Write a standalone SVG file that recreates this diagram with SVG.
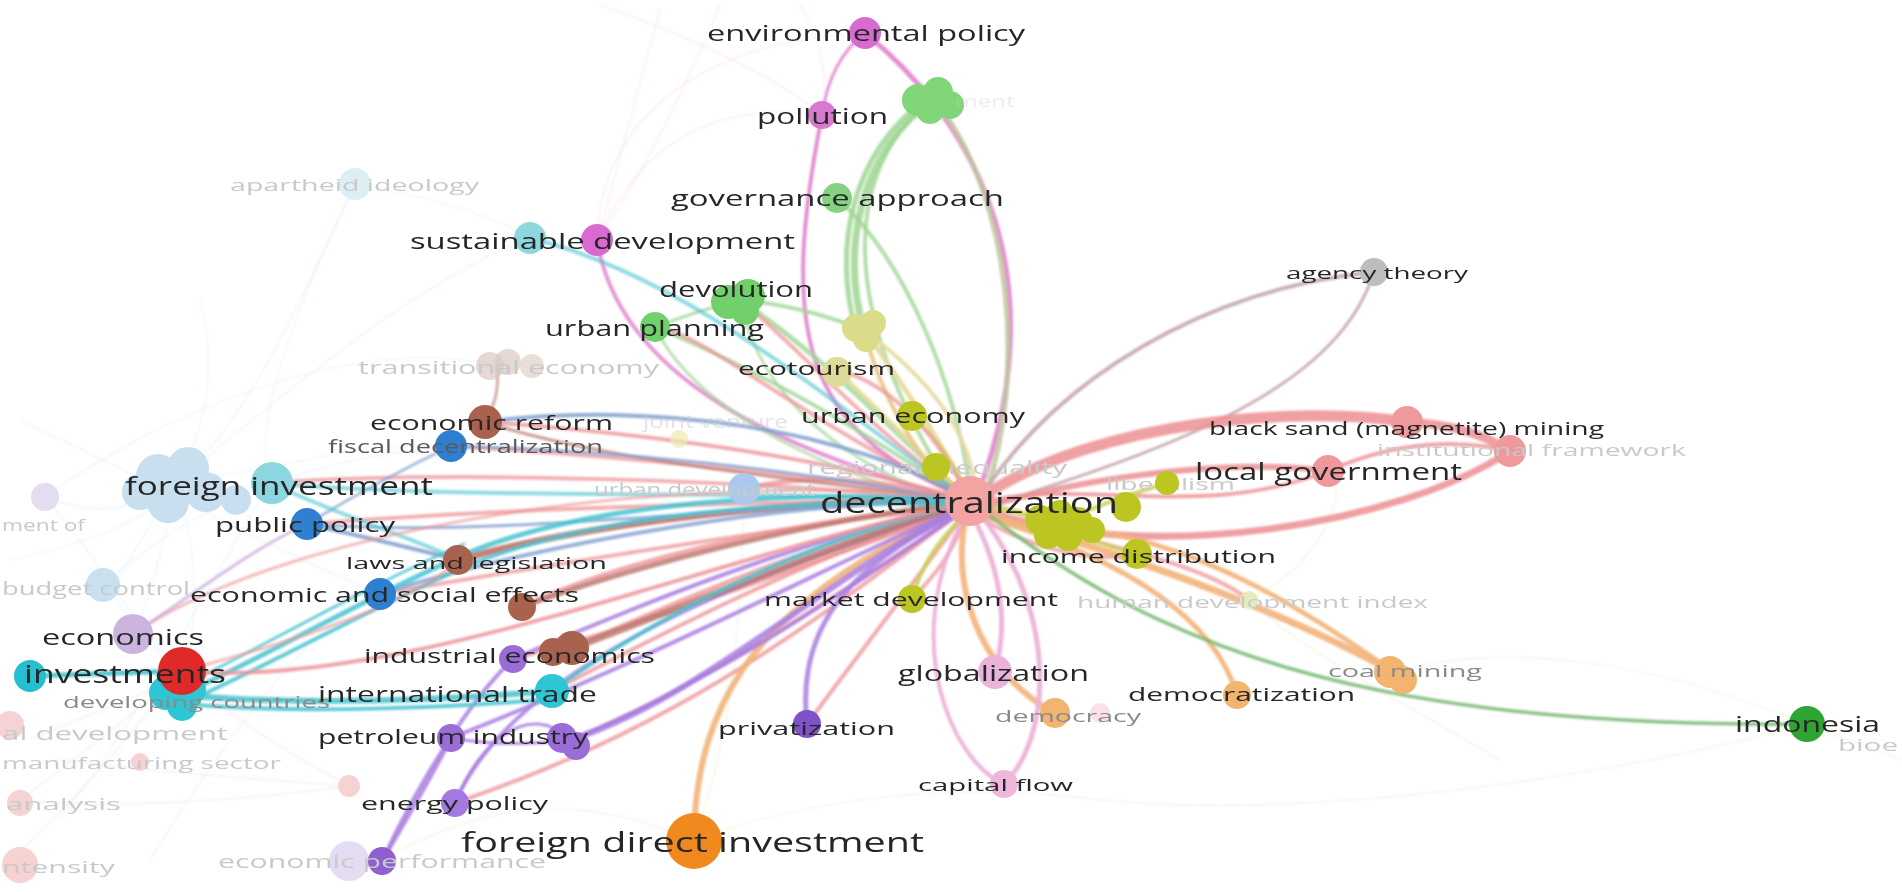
<svg xmlns="http://www.w3.org/2000/svg" width="1902" height="892" viewBox="0 0 1902 892">
<defs>
<filter id="soft" x="-5%" y="-5%" width="110%" height="110%"><feGaussianBlur stdDeviation="0.9"/></filter>
</defs>
<style>
text{font-family:"Open Sans","Liberation Sans",sans-serif;dominant-baseline:central;fill:#262626}
.f{fill:#c9c9c9}
.m{fill:#5a5a5a}
.g{fill:#8a8a8a}
#edges path{fill:none;stroke-linecap:round}
.bg{stroke:#d6e8f2;stroke-width:1.5;opacity:.4}
.bp{stroke:#f6d6e6;stroke-width:1.5;opacity:.45}
.by{stroke:#eee9cf;stroke-width:1.5;opacity:.5}
.pk{stroke:#de7ccb}
.gr{stroke:#9fd693}
.gy{stroke:#bfc79c}
.ye{stroke:#e7d99e}
.ol{stroke:#c8cf52}
.rd{stroke:#ec8f93}
.or{stroke:#f2b47a}
.lp{stroke:#ebaed6}
.pu{stroke:#a87ee0}
.br{stroke:#b8776a}
.bl{stroke:#7f9fcf}
.cy{stroke:#44c3cf}
.ga{stroke:#c4a9ae}
.ig{stroke:#74b86e}
</style>
<rect width="1902" height="892" fill="#ffffff"/>
<g id="edges" filter="url(#soft)">
<path class="bg" d="M176,483 C140,540 110,600 103,585"/>
<path class="bg" d="M176,483 C120,520 80,510 45,497"/>
<path class="bg" d="M176,483 C160,560 150,600 133,634"/>
<path class="bg" d="M176,483 C200,560 200,620 182,671"/>
<path class="bg" d="M176,483 C250,420 300,300 355,184"/>
<path class="bg" d="M176,483 C300,380 420,280 530,238"/>
<path class="bg" d="M103,585 C200,500 300,460 451,446"/>
<path class="bg" d="M45,497 C150,420 350,330 497,366"/>
<path class="bg" d="M176,483 C280,470 360,440 451,446"/>
<path class="bg" d="M103,585 C150,640 170,660 180,695"/>
<path class="bg" d="M355,184 C450,200 500,220 530,238"/>
<path class="bg" d="M355,184 C300,300 250,420 270,483"/>
<path class="bg" d="M45,497 C100,560 130,620 182,671"/>
<path class="bg" d="M20,420 C150,480 250,540 380,594"/>
<path class="bg" d="M60,820 C150,700 200,600 270,483"/>
<path class="bg" d="M150,860 C250,700 320,620 380,594"/>
<path class="bg" d="M10,560 C100,540 150,520 176,483"/>
<path class="bg" d="M200,300 C220,380 200,440 176,483"/>
<path class="bp" d="M30,740 C120,700 160,690 182,671"/>
<path class="bp" d="M20,800 C100,740 150,700 182,671"/>
<path class="bp" d="M10,860 C80,800 140,720 182,671"/>
<path class="bp" d="M349,786 C300,760 230,720 182,671"/>
<path class="bp" d="M349,786 C250,800 100,810 20,800"/>
<path class="bp" d="M60,760 C150,770 260,780 349,786"/>
<path class="bp" d="M597,240 C600,120 700,40 865,33"/>
<path class="bp" d="M597,240 C640,140 720,100 822,115"/>
<path class="bp" d="M660,10 C640,80 620,160 597,240"/>
<path class="bp" d="M720,5 C680,100 640,180 597,240"/>
<path class="bp" d="M800,5 C820,40 830,80 822,115"/>
<path class="bp" d="M600,5 C700,40 780,80 822,115"/>
<path class="by" d="M694,841 C800,800 950,780 1100,800"/>
<path class="by" d="M694,841 C600,800 500,790 382,861"/>
<path class="by" d="M694,841 C720,760 740,700 744,489"/>
<path class="by" d="M1249,600 C1300,650 1400,700 1500,760"/>
<path class="by" d="M1249,600 C1330,560 1350,480 1328,471"/>
<path class="by" d="M1100,800 C1300,820 1600,780 1807,724"/>
<path class="by" d="M1395,673 C1500,640 1650,660 1807,724"/>
<path class="by" d="M1807,724 L1902,760"/>
<path class="pk" stroke-width="3" opacity=".8" d="M865,33 Q830,60 822,115"/>
<path class="pk" stroke-width="5" opacity=".85" d="M865,33 C960,110 1065,260 978,494"/>
<path class="pk" stroke-width="4" opacity=".85" d="M822,115 C780,330 800,430 964,497"/>
<path class="pk" stroke-width="4" opacity=".8" d="M597,240 C620,380 780,450 962,500"/>
<path class="gr" stroke-width="7" opacity=".85" d="M934,99 C860,150 840,250 864,330"/>
<path class="gr" stroke-width="5" opacity=".85" d="M926,100 C852,150 832,250 856,330"/>
<path class="gr" stroke-width="4" opacity=".8" d="M925,105 C850,170 830,300 955,495"/>
<path class="gy" stroke-width="5" opacity=".85" d="M934,99 C1015,200 1025,380 986,492"/>
<path class="gr" stroke-width="4" opacity=".8" d="M837,198 C905,260 955,380 970,490"/>
<path class="gr" stroke-width="5" opacity=".8" d="M740,300 C830,360 900,440 964,495"/>
<path class="gr" stroke-width="4" opacity=".8" d="M655,327 C760,370 880,440 961,498"/>
<path class="gr" stroke-width="4" opacity=".8" d="M740,300 Q800,305 864,330"/>
<path class="gr" stroke-width="3" opacity=".8" d="M655,327 Q700,310 740,300"/>
<path class="gr" stroke-width="3" opacity=".7" d="M655,327 C700,420 850,480 958,505"/>
<path class="gr" stroke-width="3" opacity=".7" d="M740,300 C760,400 850,470 960,502"/>
<path class="ye" stroke-width="5" opacity=".9" d="M864,330 C900,380 940,440 968,494"/>
<path class="ye" stroke-width="4" opacity=".9" d="M864,330 C880,400 920,460 960,497"/>
<path class="ye" stroke-width="4" opacity=".9" d="M864,330 C930,380 970,430 976,494"/>
<path class="ye" stroke-width="4" opacity=".9" d="M837,370 Q900,430 965,498"/>
<path class="or" stroke-width="3" opacity=".6" d="M864,330 C890,420 930,470 955,500"/>
<path class="ol" stroke-width="3" opacity=".8" d="M912,416 Q950,450 968,494"/>
<path class="ol" stroke-width="3" opacity=".8" d="M936,467 L965,495"/>
<path class="ga" stroke-width="4" opacity=".9" d="M1374,272 C1200,290 1060,380 985,490"/>
<path class="ga" stroke-width="3" opacity=".9" d="M1374,272 C1340,380 1200,440 1000,502"/>
<path class="rd" stroke-width="11" opacity=".85" d="M985,495 C1100,420 1300,405 1407,422"/>
<path class="rd" stroke-width="9" opacity=".85" d="M1407,422 Q1470,425 1510,451"/>
<path class="rd" stroke-width="7" opacity=".85" d="M990,512 C1150,565 1400,525 1510,451"/>
<path class="rd" stroke-width="6" opacity=".85" d="M990,505 C1120,470 1250,460 1328,471"/>
<path class="rd" stroke-width="4" opacity=".8" d="M1328,471 Q1420,430 1510,451"/>
<path class="rd" stroke-width="4" opacity=".8" d="M990,500 C1100,480 1200,520 1328,471"/>
<path class="rd" stroke-width="5" opacity=".75" d="M960,500 C850,470 780,480 744,489"/>
<path class="rd" stroke-width="4" opacity=".75" d="M960,498 C800,450 600,430 485,422"/>
<path class="rd" stroke-width="4" opacity=".7" d="M960,500 C780,470 600,455 451,446"/>
<path class="rd" stroke-width="4" opacity=".7" d="M958,500 C750,480 450,470 270,483"/>
<path class="rd" stroke-width="5" opacity=".75" d="M960,503 C800,500 600,520 458,560"/>
<path class="rd" stroke-width="5" opacity=".75" d="M960,505 C800,520 620,560 522,607"/>
<path class="rd" stroke-width="5" opacity=".75" d="M962,507 C820,540 680,600 570,649"/>
<path class="rd" stroke-width="4" opacity=".75" d="M962,508 C800,560 650,640 552,691"/>
<path class="rd" stroke-width="4" opacity=".7" d="M960,506 C760,530 520,570 380,594"/>
<path class="rd" stroke-width="4" opacity=".7" d="M960,502 C760,500 480,510 307,524"/>
<path class="rd" stroke-width="4" opacity=".75" d="M964,510 C860,580 700,690 570,740"/>
<path class="rd" stroke-width="4" opacity=".75" d="M963,511 C840,600 700,720 455,803"/>
<path class="rd" stroke-width="4" opacity=".75" d="M966,512 C900,600 840,680 807,724"/>
<path class="rd" stroke-width="4" opacity=".75" d="M962,509 C820,560 660,620 513,659"/>
<path class="rd" stroke-width="4" opacity=".7" d="M962,497 C800,420 700,330 655,327"/>
<path class="rd" stroke-width="4" opacity=".7" d="M963,496 C860,420 780,330 740,300"/>
<path class="rd" stroke-width="4" opacity=".7" d="M966,494 C930,420 880,380 837,370"/>
<path class="rd" stroke-width="4" opacity=".7" d="M968,512 C950,560 930,580 912,599"/>
<path class="rd" stroke-width="4" opacity=".7" d="M975,515 C1050,560 1110,560 1137,554"/>
<path class="rd" stroke-width="4" opacity=".7" d="M980,512 C1080,540 1200,560 1249,600"/>
<path class="ol" stroke-width="6" opacity=".85" d="M975,505 Q1020,510 1055,524"/>
<path class="ol" stroke-width="4" opacity=".85" d="M1055,524 Q1110,500 1167,483"/>
<path class="ol" stroke-width="4" opacity=".85" d="M1055,524 Q1100,545 1137,554"/>
<path class="ol" stroke-width="4" opacity=".85" d="M970,510 Q925,550 912,599"/>
<path class="or" stroke-width="7" opacity=".9" d="M985,515 C1150,560 1300,620 1395,673"/>
<path class="or" stroke-width="5" opacity=".9" d="M1080,530 C1200,540 1320,620 1395,673"/>
<path class="or" stroke-width="5" opacity=".9" d="M980,515 C1130,560 1215,620 1237,695"/>
<path class="or" stroke-width="6" opacity=".9" d="M965,520 C950,600 990,680 1055,713"/>
<path class="or" stroke-width="6" opacity=".9" d="M694,841 C695,700 760,600 958,510"/>
<path class="ig" stroke-width="3.5" opacity=".85" d="M985,512 C1150,640 1350,728 1807,724"/>
<path class="lp" stroke-width="5" opacity=".9" d="M975,520 Q1015,600 995,672"/>
<path class="lp" stroke-width="4" opacity=".9" d="M963,520 C900,640 950,760 1004,784"/>
<path class="lp" stroke-width="5" opacity=".9" d="M985,520 C1060,620 1050,740 1004,784"/>
<path class="pu" stroke-width="5" opacity=".85" d="M807,724 C795,620 860,560 960,512"/>
<path class="pu" stroke-width="6" opacity=".85" d="M570,740 C700,700 850,560 960,510"/>
<path class="pu" stroke-width="4" opacity=".85" d="M570,740 C720,680 860,580 962,512"/>
<path class="pu" stroke-width="4" opacity=".85" d="M451,738 C650,660 820,570 960,508"/>
<path class="pu" stroke-width="4" opacity=".85" d="M455,803 C520,650 800,560 960,506"/>
<path class="pu" stroke-width="4" opacity=".85" d="M382,861 C420,780 470,700 513,659"/>
<path class="pu" stroke-width="4" opacity=".85" d="M382,861 Q430,780 451,738"/>
<path class="pu" stroke-width="3" opacity=".85" d="M455,803 C480,740 530,700 570,740"/>
<path class="pu" stroke-width="4" opacity=".85" d="M513,659 C650,600 800,540 960,505"/>
<path class="pu" stroke-width="3" opacity=".85" d="M451,738 Q510,748 570,740"/>
<path class="br" stroke-width="7" opacity=".8" d="M458,560 C600,520 800,500 958,500"/>
<path class="br" stroke-width="7" opacity=".8" d="M570,649 C700,600 850,540 960,505"/>
<path class="br" stroke-width="5" opacity=".8" d="M522,607 C650,560 820,520 960,503"/>
<path class="br" stroke-width="3" opacity=".7" d="M485,422 C600,460 800,480 960,500"/>
<path class="br" stroke-width="3" opacity=".6" d="M497,366 C500,400 490,410 485,422"/>
<path class="bl" stroke-width="4" opacity=".85" d="M485,422 C650,400 850,430 962,497"/>
<path class="bl" stroke-width="3" opacity=".8" d="M451,446 C620,450 800,470 958,500"/>
<path class="bl" stroke-width="3" opacity=".8" d="M307,524 C500,540 780,500 958,500"/>
<path class="bl" stroke-width="4" opacity=".85" d="M307,524 Q400,545 458,560"/>
<path class="bl" stroke-width="4" opacity=".8" d="M380,594 C550,540 800,500 958,502"/>
<path class="bl" stroke-width="3" opacity=".7" d="M451,446 Q380,480 307,524"/>
<path class="cy" stroke-width="5" opacity=".85" d="M180,695 C260,660 360,600 470,552 C600,500 800,490 958,500"/>
<path class="cy" stroke-width="4" opacity=".85" d="M186,702 C266,667 366,610 476,562 C606,512 800,498 958,505"/>
<path class="cy" stroke-width="3" opacity=".8" d="M174,690 C254,652 354,592 464,544"/>
<path class="cy" stroke-width="6" opacity=".85" d="M180,695 C300,706 450,700 552,691"/>
<path class="cy" stroke-width="4" opacity=".85" d="M185,704 C300,714 450,708 552,699"/>
<path class="cy" stroke-width="4" opacity=".85" d="M552,691 C650,620 800,540 960,505"/>
<path class="cy" stroke-width="5" opacity=".9" d="M30,676 L182,671"/>
<path class="cy" stroke-width="4" opacity=".6" d="M270,483 C450,500 750,490 958,500"/>
<path class="cy" stroke-width="4" opacity=".6" d="M270,483 C350,520 420,540 458,560"/>
<path class="cy" stroke-width="4" opacity=".6" d="M530,238 C700,280 850,420 964,496"/>
<path class="rd" stroke-width="4" opacity=".8" d="M182,671 C400,690 700,560 958,505"/>
<path class="rd" stroke-width="3" opacity=".6" d="M133,634 C300,520 700,470 958,498"/>
<path stroke="#c9acd9" stroke-width="3" opacity=".8" d="M133,634 C200,590 250,550 307,524"/>
<path class="rd" stroke-width="3" opacity=".6" d="M182,671 C300,640 420,600 458,560"/>
</g>
<g id="n-faded">
<circle cx="355" cy="184" r="16" fill="#d5eaf1" opacity=".8"/>
<text class="f" x="230" y="184" font-size="17" textLength="249" lengthAdjust="spacingAndGlyphs">apartheid ideology</text>
<circle cx="490" cy="366" r="14" fill="#dcc8c0" opacity=".7"/><circle cx="508" cy="362" r="13" fill="#dcc8c0" opacity=".7"/><circle cx="532" cy="366" r="12" fill="#dcc8c0" opacity=".6"/>
<text class="f" x="358" y="367" font-size="19" textLength="301" lengthAdjust="spacingAndGlyphs">transitional economy</text>
<circle cx="679" cy="439" r="9" fill="#eeeab0" opacity=".7"/>
<text class="f" x="643" y="421" font-size="18" textLength="145" lengthAdjust="spacingAndGlyphs" opacity=".5">joint venture</text>
<circle cx="744" cy="489" r="16" fill="#a9c9ee"/>
<text class="f" x="594" y="489" font-size="19" textLength="221" lengthAdjust="spacingAndGlyphs">urban development</text>
<text class="f" x="807" y="467" font-size="18" textLength="260" lengthAdjust="spacingAndGlyphs">regional inequality</text>
<text class="f" x="1106" y="483" font-size="17" textLength="129" lengthAdjust="spacingAndGlyphs">liberalism</text>
<circle cx="1249" cy="600" r="9" fill="#e4ecb8"/>
<text class="f" x="1077" y="601" font-size="17" textLength="351" lengthAdjust="spacingAndGlyphs">human development index</text>
<circle cx="45" cy="497" r="14" fill="#e4dcef"/>
<text class="f" x="2" y="524" font-size="17" textLength="83" lengthAdjust="spacingAndGlyphs">ment of</text>
<circle cx="103" cy="585" r="17" fill="#c9e0ee"/>
<text class="f" x="2" y="588" font-size="19" textLength="188" lengthAdjust="spacingAndGlyphs">budget control</text>
<circle cx="10" cy="725" r="14" fill="#f6d2d2"/>
<text class="f" x="2" y="733" font-size="19" textLength="226" lengthAdjust="spacingAndGlyphs">al development</text>
<circle cx="140" cy="762" r="9" fill="#f6d2d2"/>
<text class="f" x="2" y="762" font-size="17" textLength="279" lengthAdjust="spacingAndGlyphs">manufacturing sector</text>
<circle cx="349" cy="786" r="11" fill="#f6d2d2"/>
<circle cx="20" cy="803" r="13" fill="#f6d2d2"/>
<text class="f" x="6" y="803" font-size="17" textLength="115" lengthAdjust="spacingAndGlyphs">analysis</text>
<circle cx="20" cy="865" r="18" fill="#f6d2d2"/>
<text class="f" x="2" y="866" font-size="17" textLength="113" lengthAdjust="spacingAndGlyphs">ntensity</text>
<circle cx="1100" cy="713" r="10" fill="#fbe0ec"/>
<text class="f" x="1838" y="745" font-size="16" textLength="60" lengthAdjust="spacingAndGlyphs">bioe</text>
</g>
<g id="n-foreign-investment">
<circle cx="158" cy="476" r="22" fill="#c8dff0"/><circle cx="188" cy="468" r="21" fill="#c8dff0"/><circle cx="206" cy="492" r="20" fill="#c8dff0"/><circle cx="168" cy="502" r="21" fill="#c8dff0"/><circle cx="140" cy="492" r="18" fill="#c8dff0"/><circle cx="236" cy="500" r="15" fill="#c8dff0"/>
<circle cx="272" cy="483" r="21" fill="#8bd6df"/>
<text x="125" y="485" font-size="25" textLength="308" lengthAdjust="spacingAndGlyphs">foreign investment</text>
</g>
<g id="n-economics">
<circle cx="133" cy="634" r="20" fill="#cbb5e0"/>
<text x="42" y="637" font-size="21" textLength="162" lengthAdjust="spacingAndGlyphs">economics</text>
</g>
<g id="n-developing-countries">
<circle cx="30" cy="676" r="16" fill="#25bfd0"/>
<circle cx="166" cy="693" r="17" fill="#2ec5d4"/><circle cx="190" cy="689" r="16" fill="#2ec5d4"/><circle cx="182" cy="706" r="15" fill="#2ec5d4"/>
<text class="g" x="63" y="701" font-size="17" textLength="267" lengthAdjust="spacingAndGlyphs">developing countries</text>
</g>
<g id="n-investments">
<circle cx="182" cy="671" r="24" fill="#e02a2a"/>
<text x="24" y="673" font-size="26" textLength="202" lengthAdjust="spacingAndGlyphs">investments</text>
</g>
<g id="n-public-policy">
<circle cx="307" cy="524" r="16" fill="#2f80d0"/>
<text x="215" y="524" font-size="20" textLength="180" lengthAdjust="spacingAndGlyphs">public policy</text>
</g>
<g id="n-economic-reform">
<circle cx="485" cy="422" r="17" fill="#a9624e"/>
<text x="370" y="422" font-size="20" textLength="243" lengthAdjust="spacingAndGlyphs">economic reform</text>
</g>
<g id="n-fiscal-decentralization">
<circle cx="451" cy="446" r="16" fill="#2f7fd0"/>
<text class="m" x="328" y="446" font-size="19" textLength="275" lengthAdjust="spacingAndGlyphs">fiscal decentralization</text>
</g>
<g id="n-laws">
<circle cx="458" cy="560" r="15" fill="#a9624e"/>
<text x="346" y="562" font-size="17" textLength="261" lengthAdjust="spacingAndGlyphs">laws and legislation</text>
</g>
<g id="n-econ-social">
<circle cx="380" cy="594" r="16" fill="#2f7fd0"/>
<circle cx="522" cy="607" r="14" fill="#a9624e"/>
<text x="190" y="594" font-size="20" textLength="389" lengthAdjust="spacingAndGlyphs">economic and social effects</text>
</g>
<g id="n-industrial-economics">
<circle cx="572" cy="648" r="17" fill="#a9624e"/><circle cx="553" cy="652" r="14" fill="#a9624e"/>
<circle cx="513" cy="659" r="14" fill="#9a6cd8"/>
<text x="364" y="655" font-size="20" textLength="291" lengthAdjust="spacingAndGlyphs">industrial economics</text>
</g>
<g id="n-international-trade">
<circle cx="552" cy="691" r="17" fill="#2ec5d4"/>
<text x="318" y="694" font-size="21" textLength="279" lengthAdjust="spacingAndGlyphs">international trade</text>
</g>
<g id="n-petroleum">
<circle cx="451" cy="738" r="14" fill="#9a6cd8"/>
<circle cx="562" cy="738" r="15" fill="#9a6cd8"/><circle cx="576" cy="746" r="14" fill="#9a6cd8"/>
<text x="318" y="736" font-size="20" textLength="270" lengthAdjust="spacingAndGlyphs">petroleum industry</text>
</g>
<g id="n-energy-policy">
<circle cx="455" cy="803" r="14" fill="#a47ae0"/>
<text x="361" y="803" font-size="19" textLength="187" lengthAdjust="spacingAndGlyphs">energy policy</text>
</g>
<g id="n-economic-performance">
<circle cx="349" cy="861" r="20" fill="#e4dcf2"/>
<circle cx="382" cy="861" r="14" fill="#8f5fd0"/>
<text class="f" x="218" y="861" font-size="19" textLength="328" lengthAdjust="spacingAndGlyphs">economic performance</text>
</g>
<g id="n-privatization">
<circle cx="807" cy="724" r="14" fill="#7f52c8"/>
<text x="718" y="728" font-size="19" textLength="177" lengthAdjust="spacingAndGlyphs">privatization</text>
</g>
<g id="n-fdi">
<circle cx="694" cy="841" r="28" fill="#f08a1e"/>
<text x="461" y="841" font-size="28" textLength="463" lengthAdjust="spacingAndGlyphs">foreign direct investment</text>
</g>
<g id="n-environmental-policy">
<circle cx="865" cy="33" r="16" fill="#d86ad0"/>
<text x="707" y="33" font-size="21" textLength="318" lengthAdjust="spacingAndGlyphs">environmental policy</text>
</g>
<g id="n-green-cluster">
<circle cx="918" cy="100" r="16" fill="#82d67a"/><circle cx="938" cy="92" r="15" fill="#82d67a"/><circle cx="950" cy="105" r="14" fill="#82d67a"/><circle cx="930" cy="110" r="14" fill="#82d67a"/>
<text class="f" x="955" y="100" font-size="17" textLength="60" lengthAdjust="spacingAndGlyphs" opacity=".35">ment</text>
</g>
<g id="n-pollution">
<circle cx="822" cy="115" r="14" fill="#d87ad0"/>
<text x="757" y="116" font-size="21" textLength="131" lengthAdjust="spacingAndGlyphs">pollution</text>
</g>
<g id="n-governance">
<circle cx="837" cy="198" r="15" fill="#86d283"/>
<text x="671" y="198" font-size="21" textLength="333" lengthAdjust="spacingAndGlyphs">governance approach</text>
</g>
<g id="n-sustainable-development">
<circle cx="530" cy="238" r="16" fill="#8fd7df"/>
<circle cx="597" cy="240" r="16" fill="#d86ad0"/>
<text x="410" y="240" font-size="22" textLength="385" lengthAdjust="spacingAndGlyphs">sustainable development</text>
</g>
<g id="n-devolution">
<circle cx="728" cy="302" r="17" fill="#72d06c"/><circle cx="748" cy="296" r="17" fill="#72d06c"/><circle cx="745" cy="311" r="14" fill="#72d06c"/>
<text x="659" y="289" font-size="21" textLength="154" lengthAdjust="spacingAndGlyphs">devolution</text>
</g>
<g id="n-urban-planning">
<circle cx="655" cy="327" r="15" fill="#72d06c"/>
<text x="545" y="328" font-size="21" textLength="219" lengthAdjust="spacingAndGlyphs">urban planning</text>
</g>
<g id="n-yellow-cluster">
<circle cx="856" cy="328" r="14" fill="#dadc8a"/><circle cx="873" cy="323" r="13" fill="#dadc8a"/><circle cx="866" cy="339" r="13" fill="#dadc8a"/>
</g>
<g id="n-ecotourism">
<circle cx="837" cy="372" r="15" fill="#dcdc98"/>
<text x="738" y="368" font-size="19" textLength="157" lengthAdjust="spacingAndGlyphs">ecotourism</text>
</g>
<g id="n-urban-economy">
<circle cx="912" cy="416" r="15" fill="#bcc622"/>
<text x="801" y="415" font-size="20" textLength="224" lengthAdjust="spacingAndGlyphs">urban economy</text>
</g>
<g id="n-regional-inequality">
<circle cx="936" cy="467" r="14" fill="#bcc622"/>
</g>
<g id="n-agency-theory">
<circle cx="1374" cy="272" r="14" fill="#bdbdbd"/>
<text x="1286" y="272" font-size="17" textLength="182" lengthAdjust="spacingAndGlyphs">agency theory</text>
</g>
<g id="n-black-sand">
<circle cx="1407" cy="422" r="16" fill="#f0999c"/>
<text x="1209" y="428" font-size="18" textLength="395" lengthAdjust="spacingAndGlyphs">black sand (magnetite) mining</text>
</g>
<g id="n-institutional-framework">
<circle cx="1510" cy="451" r="16" fill="#f0999c"/>
<text class="f" x="1377" y="449" font-size="17" textLength="309" lengthAdjust="spacingAndGlyphs">institutional framework</text>
</g>
<g id="n-local-government">
<circle cx="1328" cy="471" r="16" fill="#f0999c"/>
<text x="1195" y="471" font-size="23" textLength="267" lengthAdjust="spacingAndGlyphs">local government</text>
</g>
<g id="n-olive-cluster">
<circle cx="1167" cy="483" r="12" fill="#bcc622"/>
<circle cx="1126" cy="507" r="15" fill="#bcc622"/>
<circle cx="1040" cy="520" r="15" fill="#bcc622"/><circle cx="1060" cy="514" r="14" fill="#bcc622"/><circle cx="1078" cy="522" r="15" fill="#bcc622"/><circle cx="1048" cy="535" r="14" fill="#bcc622"/><circle cx="1068" cy="537" r="14" fill="#bcc622"/><circle cx="1092" cy="530" r="13" fill="#bcc622"/>
</g>
<g id="n-decentralization">
<circle cx="970" cy="501" r="25" fill="#f4a3a3"/>
<text x="820" y="501" font-size="29" textLength="298" lengthAdjust="spacingAndGlyphs">decentralization</text>
</g>
<g id="n-income-distribution">
<circle cx="1137" cy="554" r="15" fill="#bcc622"/>
<text x="1001" y="556" font-size="19" textLength="275" lengthAdjust="spacingAndGlyphs">income distribution</text>
</g>
<g id="n-market-development">
<circle cx="912" cy="599" r="14" fill="#bcc622"/>
<text x="764" y="599" font-size="19" textLength="294" lengthAdjust="spacingAndGlyphs">market development</text>
</g>
<g id="n-globalization">
<circle cx="995" cy="672" r="17" fill="#e9b3dc"/>
<text x="898" y="673" font-size="21" textLength="191" lengthAdjust="spacingAndGlyphs">globalization</text>
</g>
<g id="n-democracy">
<circle cx="1055" cy="713" r="15" fill="#f2b46e"/>
<text class="g" x="995" y="716" font-size="16" textLength="146" lengthAdjust="spacingAndGlyphs">democracy</text>
</g>
<g id="n-capital-flow">
<circle cx="1004" cy="784" r="14" fill="#efb6db"/>
<text x="918" y="785" font-size="16" textLength="155" lengthAdjust="spacingAndGlyphs">capital flow</text>
</g>
<g id="n-democratization">
<circle cx="1237" cy="695" r="14" fill="#f2b46e"/>
<text x="1128" y="694" font-size="19" textLength="227" lengthAdjust="spacingAndGlyphs">democratization</text>
</g>
<g id="n-coal-mining">
<circle cx="1390" cy="672" r="16" fill="#f2b46e"/><circle cx="1403" cy="680" r="14" fill="#f2b46e"/>
<text class="g" x="1328" y="671" font-size="16" textLength="154" lengthAdjust="spacingAndGlyphs">coal mining</text>
</g>
<g id="n-indonesia">
<circle cx="1807" cy="724" r="18" fill="#2ea533"/>
<text x="1735" y="724" font-size="21" textLength="145" lengthAdjust="spacingAndGlyphs">indonesia</text>
</g>
</svg>
